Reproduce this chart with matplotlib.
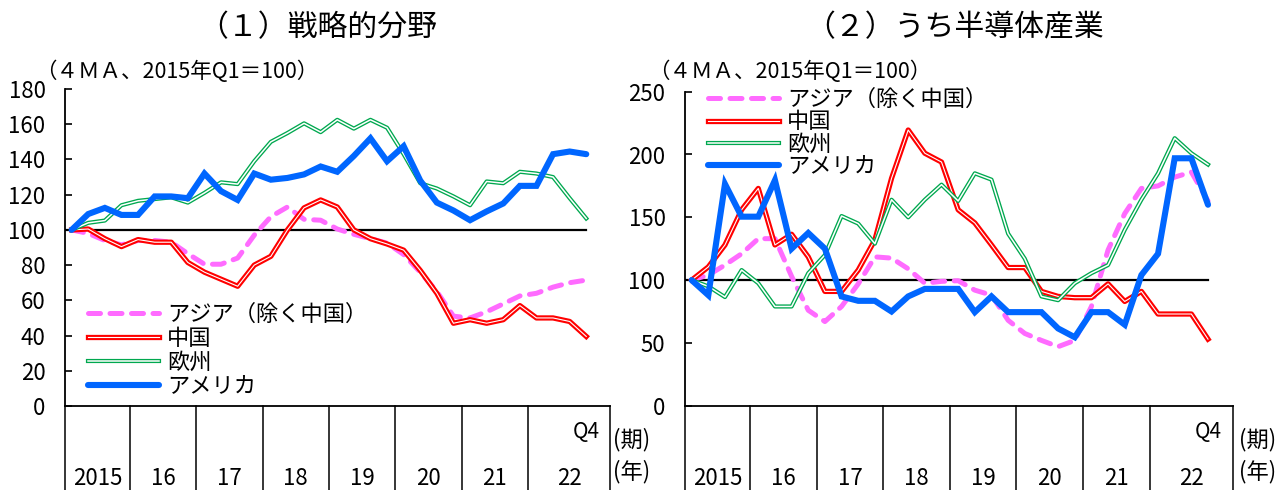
import matplotlib
matplotlib.use("Agg")
import matplotlib.pyplot as plt
import matplotlib.patheffects as pe
import matplotlib.transforms as mtransforms
import numpy as np

plt.rcParams['font.family'] = ['Noto Sans CJK JP', 'DejaVu Sans']

# ---------------- data ----------------
year_labels = ['2015', '16', '17', '18', '19', '20', '21', '22']
series_names = ['アジア（除く中国）', '中国', '欧州', 'アメリカ']

# (1) 戦略的分野  2015Q1..2022Q4
asia_l = [100, 98, 94, 91.5, 94, 94, 93, 86.5, 80.5, 80.5, 84, 97, 107.5, 113, 106, 105.5,
          100.5, 97.5, 95, 92.5, 86, 76, 65, 51, 50, 53.5, 58, 62.5, 64, 67.5, 70, 71.5]
china_l = [100, 100.5, 95, 90.5, 94.5, 93, 93, 81.5, 76, 72, 68, 80, 85, 100, 112.5, 117,
           113, 100, 95, 92, 88.5, 77, 64, 47, 49, 47, 49, 57, 50, 50, 48, 39.5]
europe_l = [100, 104, 105.3, 114, 116.5, 117.5, 118.5, 115.5, 121, 127, 126, 139, 150, 155, 160.5, 155.5,
            162.5, 157.5, 162.5, 158, 143, 126.5, 123.5, 119, 114, 127.5, 126.5, 133, 132, 130, 118, 106.5]
usa_l = [100, 109, 112.5, 108.5, 108.5, 119, 119, 118, 132, 122, 117, 132, 128.5, 129.5, 131.5, 136,
         133, 142, 152, 139, 147.5, 128, 115.5, 111, 105.5, 110.5, 115, 125, 125, 143, 144.5, 143]

# (2) うち半導体産業
asia_r = [100, 104, 112, 121, 133, 133, 103, 76, 67, 79, 97, 118.5, 117.5, 109, 97.5, 99,
          99.5, 92, 88, 68, 57.5, 52, 47, 52, 79, 124, 153, 173, 175, 182, 186, 163]
china_r = [100, 110.5, 128, 156, 173, 128, 136.5, 118.5, 91, 91, 108, 132, 181, 219.5, 201, 194,
           156, 145.5, 128, 110, 110, 91, 87, 86, 86, 97, 83, 91, 73, 73, 73, 53]
europe_r = [100, 95, 86.5, 108, 97.5, 79, 79, 105.5, 120, 151, 145, 129, 164, 150, 164, 176,
            163, 185, 180, 137, 117, 87, 84, 97.5, 105.5, 112, 140, 164, 185, 213, 201, 192]
usa_r = [100, 88, 176.5, 150.5, 150.5, 179.5, 125, 137.5, 125, 87, 83.5, 83.5, 75, 87, 93, 93,
         93, 74.5, 87, 74.5, 74.5, 74.5, 61.5, 54.5, 74.5, 74.5, 64.5, 104, 121, 197, 197, 160]

W, H = 1285, 490
fig = plt.figure(figsize=(W / 100, H / 100), dpi=100)

C_ASIA = '#FF6BFF'
C_CHINA = '#FF0000'
C_EU = '#00A84F'
C_US = '#0066FF'


def fx(px):
    return px / W


def fy(py):
    return 1 - py / H


def panel(ax, data, ymax, ystep, title, title_x, unit_x, leg_anchor, leg_space, xmax, period_px):
    asia, china, europe, usa = data
    x = np.arange(len(asia))
    xmin = -0.4
    ax.set_xlim(xmin, xmax)
    ax.set_ylim(0, ymax)
    ax.plot([xmin, x[-1]], [100, 100], color='black', lw=1.6, zorder=1)
    ax.plot(x, asia, color=C_ASIA, lw=3.6, dashes=(2.4, 1.9), dash_capstyle='round',
            label=series_names[0], zorder=2)
    ax.plot(x, china, color='white', lw=0.8, label=series_names[1], zorder=3,
            path_effects=[pe.Stroke(linewidth=3.8, foreground=C_CHINA), pe.Normal()])
    ax.plot(x, europe, color='white', lw=1.1, label=series_names[2], zorder=4,
            path_effects=[pe.Stroke(linewidth=3.0, foreground=C_EU), pe.Normal()])
    ax.plot(x, usa, color=C_US, lw=4.4, label=series_names[3], zorder=5,
            solid_capstyle='round', solid_joinstyle='miter')

    for s in ['top', 'right']:
        ax.spines[s].set_visible(False)
    ax.spines['left'].set_linewidth(1.3)
    ax.spines['bottom'].set_linewidth(1.3)
    ax.set_yticks(np.arange(0, ymax + 1, ystep))
    ax.tick_params(axis='y', direction='in', length=5, width=1.2, pad=14, labelsize=16)
    ax.set_xticks([])

    # category box below the axis
    edges = [xmin] + [3.5 + 4 * k for k in range(7)] + [xmax]
    tr = ax.get_xaxis_transform()
    for e in edges:
        ax.plot([e, e], [0, -0.4], color='black', lw=1.1, transform=tr, clip_on=False)
    trf = mtransforms.blended_transform_factory(ax.transData, fig.transFigure)
    for k, lab in enumerate(year_labels):
        c = (edges[k] + edges[k + 1]) / 2
        ax.text(c, fy(478), lab, transform=trf, ha='center', va='center', fontsize=16)
    ax.text(x[-1], fy(432), 'Q4', transform=trf, ha='center', va='center', fontsize=15)
    fig.text(fx(period_px), fy(440), '(期)', ha='left', va='center', fontsize=16)
    fig.text(fx(period_px), fy(472), '(年)', ha='left', va='center', fontsize=16)

    fig.text(fx(title_x), fy(28), title, ha='center', va='center', fontsize=21.5)
    fig.text(fx(unit_x), fy(72), '（４ＭＡ、2015年Q1＝100）', ha='left', va='center', fontsize=15.5)

    ax.legend(loc='upper left', bbox_to_anchor=(fx(leg_anchor[0]), fy(leg_anchor[1])),
              bbox_transform=fig.transFigure, frameon=False, fontsize=16,
              handlelength=3.2, handletextpad=0.35, labelspacing=leg_space,
              borderpad=0, borderaxespad=0)


ax1 = fig.add_axes([fx(65), fy(406), 545 / W, 317 / H])
panel(ax1, (asia_l, china_l, europe_l, usa_l), 180, 20, '（１）戦略的分野', 318, 35,
      (88, 303), 0.04, 32.43, 613)

ax2 = fig.add_axes([fx(685), fy(405.7), 548 / W, 314 / H])
panel(ax2, (asia_r, china_r, europe_r, usa_r), 250, 50, '（２）うち半導体産業', 955, 648,
      (708, 88), -0.03, 32.5, 1239)

fig.savefig('out.png', dpi=100)
